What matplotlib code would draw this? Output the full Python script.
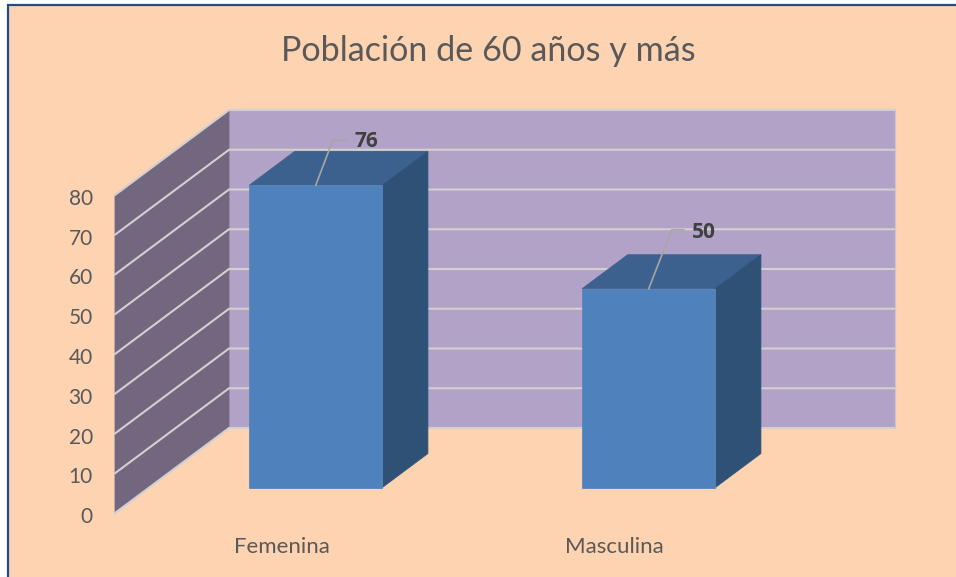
import numpy as np
import matplotlib
matplotlib.use('Agg')
import matplotlib.pyplot as plt
from matplotlib.patches import Polygon, Rectangle
from matplotlib.transforms import ScaledTranslation

plt.rcParams['font.family'] = ['Lato', 'DejaVu Sans']

categorias = ['Femenina', 'Masculina']
valores = [76, 50]
yticks = [0, 10, 20, 30, 40, 50, 60, 70, 80]
titulo = 'Población de 60 años y más'

W, H = 956, 577
fig = plt.figure(figsize=(W/100, H/100), dpi=100, facecolor='white')

# panel de fondo, coordenadas de figura
fig.add_artist(Rectangle((8/W, -0.05), 1, 1.05-5/H, transform=fig.transFigure,
                         facecolor='#FDD3B2', edgecolor='#1F4E8C', linewidth=1.6, zorder=-1))

ax = fig.add_axes([115/W, (H-513)/H, 666/W, 318/H])
ax.set_xlim(-0.5, 1.5)
ax.set_ylim(0, 80)
ax.patch.set_alpha(0)
for s in ax.spines.values():
    s.set_visible(False)

# pixeles a unidades de datos
ux = 2/666
uy = 80/318
dep_x = 114*ux
dep_y = 85*uy

def oblicua(x, y, d):
    # proyeccion oblicua: d=0 frente, d=1 pared del fondo
    return (x + d*dep_x, y + d*dep_y)

def cara(puntos, color, z, borde=None):
    ax.add_patch(Polygon([oblicua(*p) for p in puntos], closed=True, facecolor=color,
                         edgecolor=borde if borde else color, linewidth=0.6,
                         zorder=z, clip_on=False))

x0, x1 = ax.get_xlim()
ymax = yticks[-1]

# paredes
cara([(x0, 0, 1), (x1, 0, 1), (x1, ymax, 1), (x0, ymax, 1)], '#B3A2C7', 1)
cara([(x0, 0, 0), (x0, 0, 1), (x0, ymax, 1), (x0, ymax, 0)], '#72677F', 1)

# lineas de la cuadricula
for t in yticks:
    a = oblicua(x0, t, 0)
    b = oblicua(x0, t, 1)
    c = oblicua(x1, t, 1)
    ax.plot([a[0], b[0], c[0]], [a[1], b[1], c[1]], color='#D2D0D0', lw=1.5,
            zorder=2, clip_on=False, solid_joinstyle='miter')
a = oblicua(x1, 0, 1)
b = oblicua(x1, ymax, 1)
ax.plot([a[0], b[0]], [a[1], b[1]], color='#C9C6D2', lw=0.8, zorder=2, clip_on=False)

# barras
ancho = 0.4
d0, d1 = 0.3, 0.7
# guia de cada etiqueta en pixeles: codo x, fin x, alto, texto x, texto y
guias = [(17, 30, 45, 39, 44), (23, 35, 59, 43, 56)]
for i, v in enumerate(valores):
    l, r = i-ancho/2, i+ancho/2
    cara([(l, v, d0), (r, v, d0), (r, v, d1), (l, v, d1)], '#3C618F', 3)
    cara([(r, 0, d0), (r, 0, d1), (r, v, d1), (r, v, d0)], '#305176', 3)
    cara([(l, 0, d0), (r, 0, d0), (r, v, d0), (l, v, d0)], '#4F81BD', 4, '#5A86BC')
    # linea guia y etiqueta
    px, py = oblicua(i, v, d0)
    gx, gf, gh, tx, ty = guias[i]
    ax.plot([px, px+gx*ux, px+gf*ux], [py, py+gh*uy, py+gh*uy], color='#A6A6A6', lw=1.2,
            zorder=5, clip_on=False)
    ax.text(px+tx*ux, py+ty*uy, str(v), fontsize=15, fontweight='bold', color='#404040',
            family='Open Sans', ha='left', va='center', zorder=6, clip_on=False)

ax.set_xticks(range(len(categorias)))
ax.set_xticklabels(categorias, fontsize=16, color='#595959')
ax.set_yticks(yticks)
ax.set_yticklabels([str(t) for t in yticks], fontsize=15, color='#595959')
ax.tick_params(axis='x', length=0, pad=17.5)
ax.tick_params(axis='y', length=0, pad=16)
baja = ScaledTranslation(0, -2/100, fig.dpi_scale_trans)
for lab in ax.get_yticklabels():
    lab.set_transform(lab.get_transform() + baja)

fig.text(488/W, 1-51/H, titulo, fontsize=24.6, color='#595959', ha='center', va='center')

fig.savefig('out.png', dpi=100)
